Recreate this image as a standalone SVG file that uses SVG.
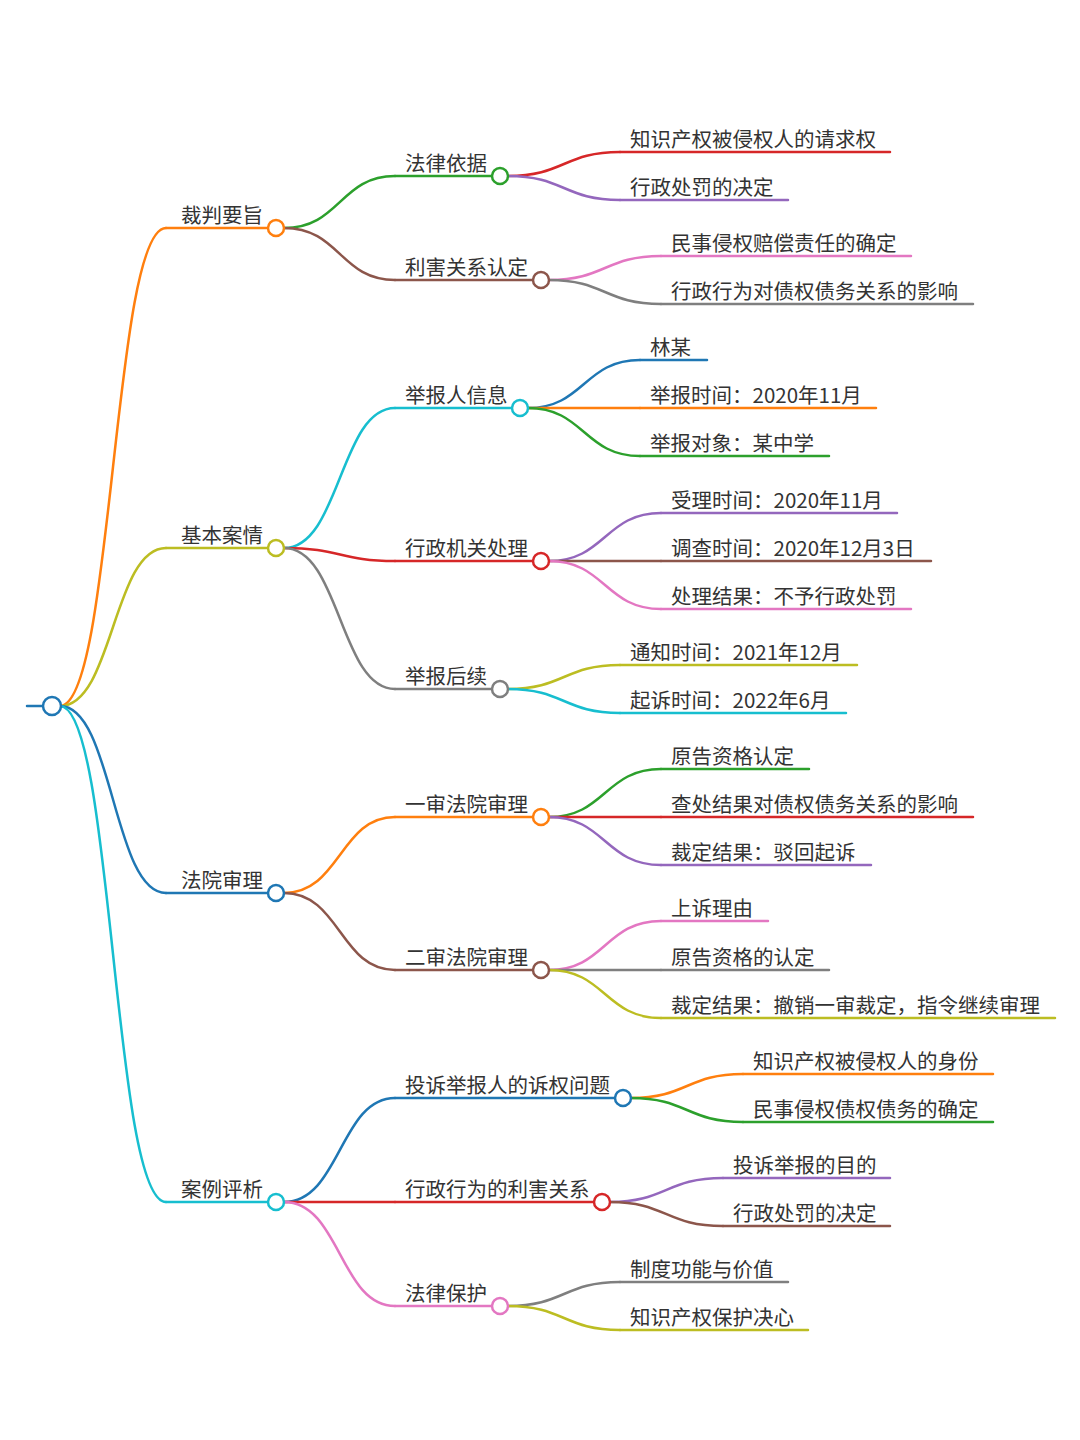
<svg xmlns="http://www.w3.org/2000/svg" width="1080" height="1440" viewBox="0 0 1080 1440">
<style>
text{font-family:"Noto Sans CJK SC","Noto Sans",sans-serif;font-size:20.5px;fill:#333}
path,line{fill:none;stroke-width:2.5;stroke-linecap:round}
circle{fill:#fff;stroke-width:2.5}
</style>
<rect width="1080" height="1440" fill="#fff"/>
<g id="connectors">
<line x1="27" y1="706" x2="43" y2="706" stroke="#1f77b4" stroke-width="3"/>
<path d="M60,706 C113,706 113,228 166,228" stroke="#ff7f0e"/>
<path d="M60,706 C113,706 113,548 166,548" stroke="#bcbd22"/>
<path d="M60,706 C113,706 113,893 166,893" stroke="#1f77b4"/>
<path d="M60,706 C113,706 113,1202 166,1202" stroke="#17becf"/>
<path d="M284,228 C340,228 340,176 395,176" stroke="#2ca02c"/>
<path d="M284,228 C340,228 340,280 395,280" stroke="#8c564b"/>
<path d="M284,548 C340,548 340,408 395,408" stroke="#17becf"/>
<path d="M284,548 C340,548 340,561 395,561" stroke="#d62728"/>
<path d="M284,548 C340,548 340,689 395,689" stroke="#7f7f7f"/>
<path d="M284,893 C340,893 340,817 395,817" stroke="#ff7f0e"/>
<path d="M284,893 C340,893 340,970 395,970" stroke="#8c564b"/>
<path d="M284,1202 C340,1202 340,1098 395,1098" stroke="#1f77b4"/>
<path d="M284,1202 C340,1202 340,1202 395,1202" stroke="#d62728"/>
<path d="M284,1202 C340,1202 340,1306 395,1306" stroke="#e377c2"/>
<path d="M508,176 C564,176 564,152 620,152" stroke="#d62728"/>
<path d="M508,176 C564,176 564,200 620,200" stroke="#9467bd"/>
<path d="M549,280 C605,280 605,256 661,256" stroke="#e377c2"/>
<path d="M549,280 C605,280 605,304 661,304" stroke="#7f7f7f"/>
<path d="M528,408 C584,408 584,360 640,360" stroke="#1f77b4"/>
<path d="M528,408 C584,408 584,408 640,408" stroke="#ff7f0e"/>
<path d="M528,408 C584,408 584,456 640,456" stroke="#2ca02c"/>
<path d="M549,561 C605,561 605,513 661,513" stroke="#9467bd"/>
<path d="M549,561 C605,561 605,561 661,561" stroke="#8c564b"/>
<path d="M549,561 C605,561 605,609 661,609" stroke="#e377c2"/>
<path d="M508,689 C564,689 564,665 620,665" stroke="#bcbd22"/>
<path d="M508,689 C564,689 564,713 620,713" stroke="#17becf"/>
<path d="M549,817 C605,817 605,769 661,769" stroke="#2ca02c"/>
<path d="M549,817 C605,817 605,817 661,817" stroke="#d62728"/>
<path d="M549,817 C605,817 605,865 661,865" stroke="#9467bd"/>
<path d="M549,970 C605,970 605,921 661,921" stroke="#e377c2"/>
<path d="M549,970 C605,970 605,970 661,970" stroke="#7f7f7f"/>
<path d="M549,970 C605,970 605,1018 661,1018" stroke="#bcbd22"/>
<path d="M631,1098 C687,1098 687,1074 743,1074" stroke="#ff7f0e"/>
<path d="M631,1098 C687,1098 687,1122 743,1122" stroke="#2ca02c"/>
<path d="M610,1202 C666,1202 666,1178 723,1178" stroke="#9467bd"/>
<path d="M610,1202 C666,1202 666,1226 723,1226" stroke="#8c564b"/>
<path d="M508,1306 C564,1306 564,1282 620,1282" stroke="#7f7f7f"/>
<path d="M508,1306 C564,1306 564,1330 620,1330" stroke="#bcbd22"/>
</g>
<g id="root"><circle cx="52" cy="706" r="9" stroke="#1f77b4"/></g>
<g id="n-caipan"><line x1="166" y1="228" x2="268" y2="228" stroke="#ff7f0e"/><text x="181" y="223">裁判要旨</text><circle cx="276" cy="228" r="8" stroke="#ff7f0e"/></g>
<g id="n-jiben"><line x1="166" y1="548" x2="268" y2="548" stroke="#bcbd22"/><text x="181" y="543">基本案情</text><circle cx="276" cy="548" r="8" stroke="#bcbd22"/></g>
<g id="n-fayuan"><line x1="166" y1="893" x2="268" y2="893" stroke="#1f77b4"/><text x="181" y="888">法院审理</text><circle cx="276" cy="893" r="8" stroke="#1f77b4"/></g>
<g id="n-anli"><line x1="166" y1="1202" x2="268" y2="1202" stroke="#17becf"/><text x="181" y="1197">案例评析</text><circle cx="276" cy="1202" r="8" stroke="#17becf"/></g>

<g id="n-falv"><line x1="395" y1="176" x2="492" y2="176" stroke="#2ca02c"/><text x="405" y="171">法律依据</text><circle cx="500" cy="176" r="8" stroke="#2ca02c"/></g>
<g id="n-lihai"><line x1="395" y1="280" x2="533" y2="280" stroke="#8c564b"/><text x="405" y="275">利害关系认定</text><circle cx="541" cy="280" r="8" stroke="#8c564b"/></g>
<g id="n-jubaoren"><line x1="395" y1="408" x2="512" y2="408" stroke="#17becf"/><text x="405" y="403">举报人信息</text><circle cx="520" cy="408" r="8" stroke="#17becf"/></g>
<g id="n-xingzheng"><line x1="395" y1="561" x2="533" y2="561" stroke="#d62728"/><text x="405" y="556">行政机关处理</text><circle cx="541" cy="561" r="8" stroke="#d62728"/></g>
<g id="n-houxu"><line x1="395" y1="689" x2="492" y2="689" stroke="#7f7f7f"/><text x="405" y="684">举报后续</text><circle cx="500" cy="689" r="8" stroke="#7f7f7f"/></g>
<g id="n-yishen"><line x1="395" y1="817" x2="533" y2="817" stroke="#ff7f0e"/><text x="405" y="812">一审法院审理</text><circle cx="541" cy="817" r="8" stroke="#ff7f0e"/></g>
<g id="n-ershen"><line x1="395" y1="970" x2="533" y2="970" stroke="#8c564b"/><text x="405" y="965">二审法院审理</text><circle cx="541" cy="970" r="8" stroke="#8c564b"/></g>
<g id="n-susong"><line x1="395" y1="1098" x2="615" y2="1098" stroke="#1f77b4"/><text x="405" y="1093">投诉举报人的诉权问题</text><circle cx="623" cy="1098" r="8" stroke="#1f77b4"/></g>
<g id="n-xingweilihai"><line x1="395" y1="1202" x2="594" y2="1202" stroke="#d62728"/><text x="405" y="1197">行政行为的利害关系</text><circle cx="602" cy="1202" r="8" stroke="#d62728"/></g>
<g id="n-baohu"><line x1="395" y1="1306" x2="492" y2="1306" stroke="#e377c2"/><text x="405" y="1301">法律保护</text><circle cx="500" cy="1306" r="8" stroke="#e377c2"/></g>

<g id="l1"><line x1="620" y1="152" x2="890" y2="152" stroke="#d62728"/><text x="630" y="147">知识产权被侵权人的请求权</text></g>
<g id="l2"><line x1="620" y1="200" x2="788" y2="200" stroke="#9467bd"/><text x="630" y="195">行政处罚的决定</text></g>
<g id="l3"><line x1="661" y1="256" x2="911" y2="256" stroke="#e377c2"/><text x="671" y="251">民事侵权赔偿责任的确定</text></g>
<g id="l4"><line x1="661" y1="304" x2="973" y2="304" stroke="#7f7f7f"/><text x="671" y="299">行政行为对债权债务关系的影响</text></g>
<g id="l5"><line x1="640" y1="360" x2="707" y2="360" stroke="#1f77b4"/><text x="650" y="355">林某</text></g>
<g id="l6"><line x1="640" y1="408" x2="876" y2="408" stroke="#ff7f0e"/><text x="650" y="403">举报时间：2020年11月</text></g>
<g id="l7"><line x1="640" y1="456" x2="829" y2="456" stroke="#2ca02c"/><text x="650" y="451">举报对象：某中学</text></g>
<g id="l8"><line x1="661" y1="513" x2="897" y2="513" stroke="#9467bd"/><text x="671" y="508">受理时间：2020年11月</text></g>
<g id="l9"><line x1="661" y1="561" x2="931" y2="561" stroke="#8c564b"/><text x="671" y="556">调查时间：2020年12月3日</text></g>
<g id="l10"><line x1="661" y1="609" x2="911" y2="609" stroke="#e377c2"/><text x="671" y="604">处理结果：不予行政处罚</text></g>
<g id="l11"><line x1="620" y1="665" x2="857" y2="665" stroke="#bcbd22"/><text x="630" y="660">通知时间：2021年12月</text></g>
<g id="l12"><line x1="620" y1="713" x2="846" y2="713" stroke="#17becf"/><text x="630" y="708">起诉时间：2022年6月</text></g>
<g id="l13"><line x1="661" y1="769" x2="809" y2="769" stroke="#2ca02c"/><text x="671" y="764">原告资格认定</text></g>
<g id="l14"><line x1="661" y1="817" x2="973" y2="817" stroke="#d62728"/><text x="671" y="812">查处结果对债权债务关系的影响</text></g>
<g id="l15"><line x1="661" y1="865" x2="871" y2="865" stroke="#9467bd"/><text x="671" y="860">裁定结果：驳回起诉</text></g>
<g id="l16"><line x1="661" y1="921" x2="768" y2="921" stroke="#e377c2"/><text x="671" y="916">上诉理由</text></g>
<g id="l17"><line x1="661" y1="970" x2="829" y2="970" stroke="#7f7f7f"/><text x="671" y="965">原告资格的认定</text></g>
<g id="l18"><line x1="661" y1="1018" x2="1055" y2="1018" stroke="#bcbd22"/><text x="671" y="1013">裁定结果：撤销一审裁定，指令继续审理</text></g>
<g id="l19"><line x1="743" y1="1074" x2="993" y2="1074" stroke="#ff7f0e"/><text x="753" y="1069">知识产权被侵权人的身份</text></g>
<g id="l20"><line x1="743" y1="1122" x2="993" y2="1122" stroke="#2ca02c"/><text x="753" y="1117">民事侵权债权债务的确定</text></g>
<g id="l21"><line x1="723" y1="1178" x2="890" y2="1178" stroke="#9467bd"/><text x="733" y="1173">投诉举报的目的</text></g>
<g id="l22"><line x1="723" y1="1226" x2="890" y2="1226" stroke="#8c564b"/><text x="733" y="1221">行政处罚的决定</text></g>
<g id="l23"><line x1="620" y1="1282" x2="788" y2="1282" stroke="#7f7f7f"/><text x="630" y="1277">制度功能与价值</text></g>
<g id="l24"><line x1="620" y1="1330" x2="808" y2="1330" stroke="#bcbd22"/><text x="630" y="1325">知识产权保护决心</text></g>
</svg>
